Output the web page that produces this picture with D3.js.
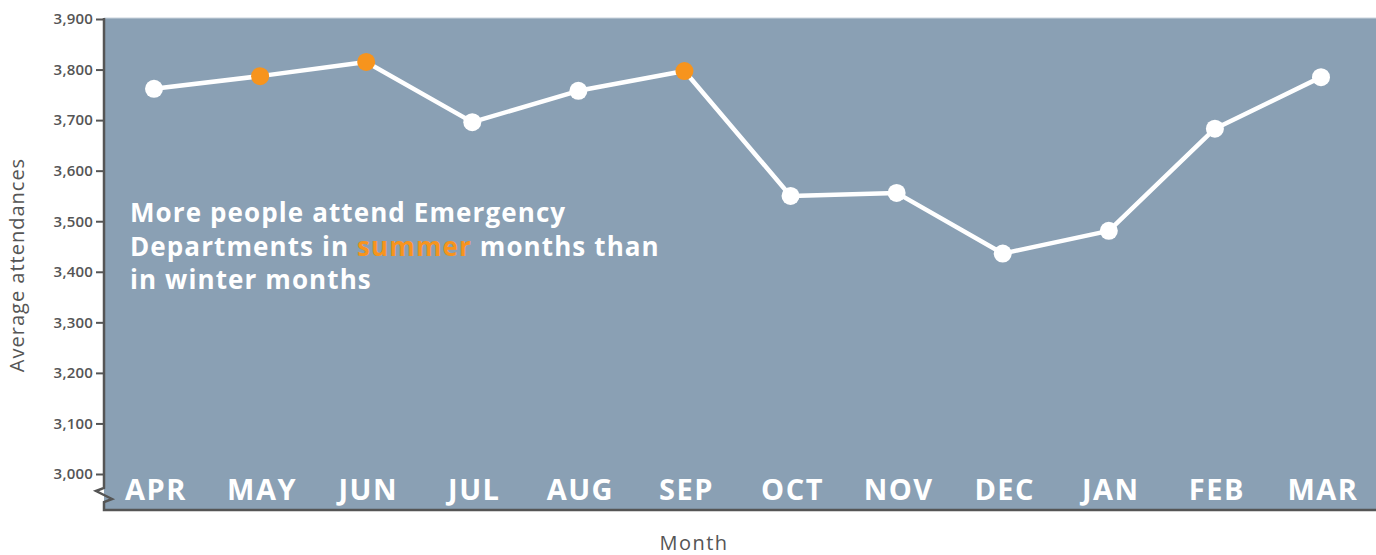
<!DOCTYPE html>
<html><head><meta charset="utf-8">
<script src="https://cdn.jsdelivr.net/npm/d3@7"></script>
<style>body{margin:0;background:#fff}svg{display:block}</style>
</head><body><svg id="c" width="1376" height="555"></svg>
<script>
const months = ["APR","MAY","JUN","JUL","AUG","SEP","OCT","NOV","DEC","JAN","FEB","MAR"];
const attendances = [3762,3787,3815,3696,3758,3797,3550,3556,3436,3481,3683,3785];
const summerMonths = ["MAY","JUN","SEP"];
const yTicks = [3000,3100,3200,3300,3400,3500,3600,3700,3800,3900];
const annotationLines = [
  [{t:"More people attend Emergency"}],
  [{t:"Departments in "},{t:"summer",o:true},{t:" months than"}],
  [{t:"in winter months"}]
];

const svg = d3.select("#c");
const L=104, T=19, R=1376, B=510;
const font = "'Open Sans', 'Noto Sans', sans-serif";
const x = d3.scalePoint().domain(months).range([154,1321]);
const y = d3.scaleLinear().domain([3000,3900]).range([474,19]);

svg.append("rect").attr("x",L).attr("y",T-1).attr("width",R-L).attr("height",B-T+1).attr("fill","#8aa0b4");
svg.append("line").attr("x1",L).attr("x2",R).attr("y1",T-1).attr("y2",T-1).attr("stroke","#c9d3dc").attr("stroke-width",1);

// y axis ticks
const yAxis = d3.axisLeft(y).tickValues(yTicks).tickFormat(d3.format(",")).tickSize(8).tickPadding(3);
const ga = svg.append("g").attr("transform",`translate(${L},0)`).call(yAxis);
ga.select(".domain").remove();
ga.selectAll(".tick line").attr("stroke","#555").attr("stroke-width",2);
ga.selectAll(".tick text").attr("fill","#555").attr("font-family",font).attr("font-size",15).attr("font-weight",600).attr("letter-spacing",0.2);

// axis lines with break
svg.append("path").attr("d",`M${L},${T-1} L${L},488 L96,491 L112,499 L${L},502 L${L},${B} L${R},${B}`)
  .attr("fill","none").attr("stroke","#555").attr("stroke-width",2.5).attr("stroke-linejoin","miter");

// month labels
svg.append("g").selectAll("text").data(months).join("text")
  .attr("x",d=>x(d)+2).attr("y",500).attr("text-anchor","middle")
  .attr("fill","#fff").attr("font-family",font).attr("font-weight",700).attr("font-size",29).attr("letter-spacing",1.5)
  .text(d=>d);

// line
svg.append("path").datum(attendances)
  .attr("d",d3.line().x((d,i)=>x(months[i])).y(d=>y(d)))
  .attr("fill","none").attr("stroke","#fff").attr("stroke-width",4.5).attr("stroke-linejoin","round");
svg.append("g").selectAll("circle").data(attendances).join("circle")
  .attr("cx",(d,i)=>x(months[i])).attr("cy",d=>y(d)).attr("r",9)
  .attr("fill",(d,i)=>summerMonths.includes(months[i])?"#f7941d":"#fff");

// annotation
const ann = svg.append("text").attr("font-family",font).attr("font-weight",700).attr("font-size",26)
  .attr("letter-spacing",1.1).attr("fill","#fff");
annotationLines.forEach((line,i)=>{
  line.forEach((seg,j)=>{
    const s = ann.append("tspan").text(seg.t);
    if(j===0) s.attr("x",130).attr("y",222+i*33.5);
    if(seg.o) s.attr("fill","#f7941d");
  });
});

// axis titles
svg.append("text").attr("transform","translate(24,265) rotate(-90)").attr("text-anchor","middle")
  .attr("fill","#555").attr("font-family",font).attr("font-size",20).attr("letter-spacing",1).text("Average attendances");
svg.append("text").attr("x",694).attr("y",550).attr("text-anchor","middle")
  .attr("fill","#555").attr("font-family",font).attr("font-size",20).attr("letter-spacing",1.5).text("Month");
</script></body></html>
